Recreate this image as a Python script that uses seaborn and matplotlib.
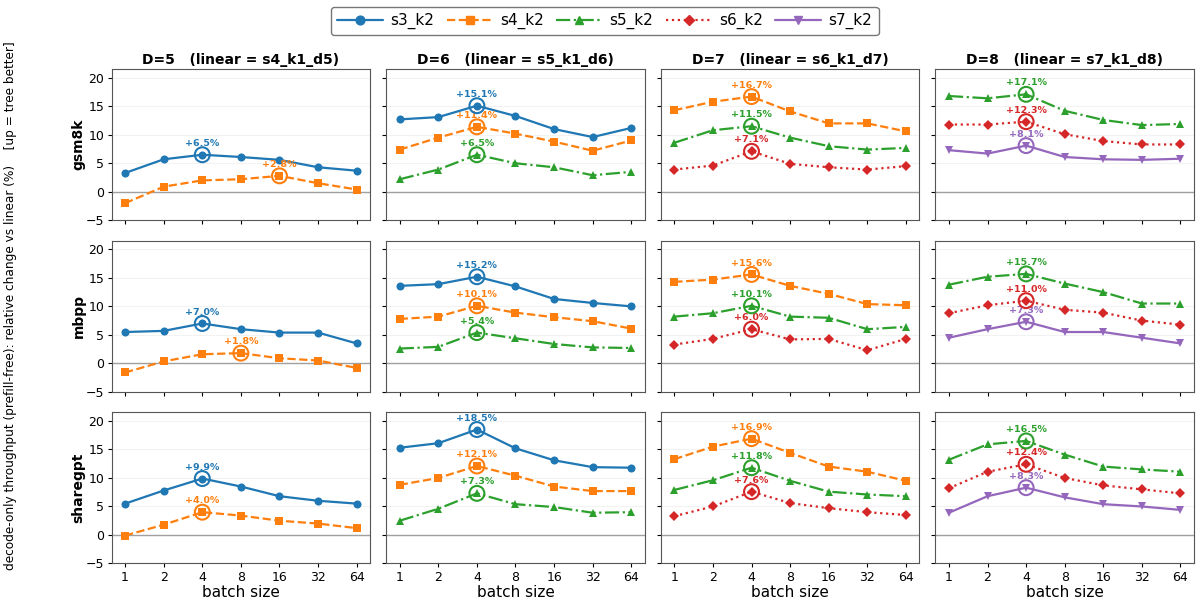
import matplotlib
matplotlib.use("Agg")
import matplotlib.pyplot as plt
from matplotlib.lines import Line2D
import seaborn as sns
import pandas as pd
import numpy as np

# batch sizes on the x axis
BATCH = [1, 2, 4, 8, 16, 32, 64]
DATASETS = ["gsm8k", "mbpp", "sharegpt"]
DEPTHS = [5, 6, 7, 8]
LINEAR = {5: "s4_k1_d5", 6: "s5_k1_d6", 7: "s6_k1_d7", 8: "s7_k1_d8"}
SERIES = ["s3_k2", "s4_k2", "s5_k2", "s6_k2", "s7_k2"]

# relative change vs linear (%) per panel
GSM8K_D5 = {"s3_k2": [3.3, 5.7, 6.5, 6.1, 5.6, 4.3, 3.7],
            "s4_k2": [-2.0, 0.9, 2.0, 2.2, 2.8, 1.5, 0.4]}
GSM8K_D6 = {"s3_k2": [12.7, 13.1, 15.1, 13.3, 11.0, 9.6, 11.2],
            "s4_k2": [7.4, 9.5, 11.4, 10.2, 8.8, 7.2, 9.0],
            "s5_k2": [2.2, 3.9, 6.5, 5.0, 4.3, 2.9, 3.5]}
GSM8K_D7 = {"s4_k2": [14.3, 15.8, 16.7, 14.1, 12.0, 12.0, 10.6],
            "s5_k2": [8.6, 10.8, 11.5, 9.5, 8.0, 7.4, 7.7],
            "s6_k2": [3.9, 4.6, 7.1, 4.9, 4.3, 3.9, 4.5]}
GSM8K_D8 = {"s5_k2": [16.8, 16.4, 17.1, 14.2, 12.6, 11.7, 11.9],
            "s6_k2": [11.8, 11.8, 12.3, 10.1, 8.9, 8.3, 8.3],
            "s7_k2": [7.3, 6.7, 8.1, 6.1, 5.7, 5.6, 5.8]}

MBPP_D5 = {"s3_k2": [5.5, 5.7, 7.0, 6.0, 5.4, 5.4, 3.5],
           "s4_k2": [-1.6, 0.35, 1.6, 1.8, 0.9, 0.5, -0.8]}
MBPP_D6 = {"s3_k2": [13.6, 13.9, 15.2, 13.5, 11.3, 10.6, 10.0],
           "s4_k2": [7.8, 8.2, 10.1, 8.9, 8.1, 7.4, 6.1],
           "s5_k2": [2.6, 2.9, 5.4, 4.4, 3.4, 2.8, 2.7]}
MBPP_D7 = {"s4_k2": [14.3, 14.7, 15.6, 13.6, 12.2, 10.4, 10.2],
           "s5_k2": [8.2, 8.8, 10.1, 8.2, 8.0, 6.0, 6.4],
           "s6_k2": [3.3, 4.3, 6.0, 4.2, 4.3, 2.3, 4.3]}
MBPP_D8 = {"s5_k2": [13.8, 15.2, 15.7, 14.0, 12.5, 10.5, 10.5],
           "s6_k2": [8.8, 10.2, 11.0, 9.4, 8.9, 7.5, 6.8],
           "s7_k2": [4.5, 6.0, 7.3, 5.5, 5.5, 4.5, 3.5]}

SHAREGPT_D5 = {"s3_k2": [5.5, 7.8, 9.9, 8.5, 6.8, 6.0, 5.5],
               "s4_k2": [-0.1, 1.8, 4.0, 3.4, 2.5, 2.0, 1.2]}
SHAREGPT_D6 = {"s3_k2": [15.3, 16.1, 18.5, 15.2, 13.1, 11.9, 11.8],
               "s4_k2": [8.8, 10.0, 12.1, 10.4, 8.5, 7.7, 7.7],
               "s5_k2": [2.5, 4.6, 7.3, 5.4, 4.9, 3.9, 4.0]}
SHAREGPT_D7 = {"s4_k2": [13.3, 15.5, 16.9, 14.4, 12.0, 11.1, 9.5],
               "s5_k2": [7.9, 9.6, 11.8, 9.5, 7.6, 7.1, 6.8],
               "s6_k2": [3.3, 5.0, 7.6, 5.6, 4.7, 4.0, 3.5]}
SHAREGPT_D8 = {"s5_k2": [13.2, 15.9, 16.5, 14.1, 12.0, 11.5, 11.1],
               "s6_k2": [8.2, 11.1, 12.4, 10.0, 8.7, 8.0, 7.3],
               "s7_k2": [3.9, 6.8, 8.3, 6.6, 5.4, 5.0, 4.4]}

PANELS = {
    "gsm8k": [GSM8K_D5, GSM8K_D6, GSM8K_D7, GSM8K_D8],
    "mbpp": [MBPP_D5, MBPP_D6, MBPP_D7, MBPP_D8],
    "sharegpt": [SHAREGPT_D5, SHAREGPT_D6, SHAREGPT_D7, SHAREGPT_D8],
}

# one style per tree shape
palette = sns.color_palette("tab10")
COLORS = {s: palette[i] for i, s in enumerate(SERIES)}
MARKERS = {"s3_k2": "o", "s4_k2": "s", "s5_k2": "^", "s6_k2": "D", "s7_k2": "v"}
LINESTYLES = {"s3_k2": "-", "s4_k2": "--", "s5_k2": "-.", "s6_k2": ":", "s7_k2": "-"}
MSIZE = {"s3_k2": 5.8, "s4_k2": 5.4, "s5_k2": 5.8, "s6_k2": 5.0, "s7_k2": 5.8}


def draw_panel(ax, data):
    df = pd.DataFrame(data)
    df["batch"] = BATCH
    for s in data:
        sns.lineplot(data=df, x="batch", y=s, ax=ax, color=COLORS[s],
                     marker=MARKERS[s], markersize=MSIZE[s], markeredgewidth=0,
                     linestyle=LINESTYLES[s], linewidth=1.6)
        # ring + label on the best batch size
        i = int(np.argmax(df[s].values))
        xb, yb = BATCH[i], df[s].values[i]
        ax.scatter([xb], [yb], s=115, facecolors="none", edgecolors=COLORS[s],
                   linewidths=1.5, zorder=5)
        ax.annotate(f"+{yb:.1f}%", (xb, yb), xytext=(0, 5),
                    textcoords="offset points", ha="center", va="bottom",
                    fontsize=6.8, fontweight="bold", color=COLORS[s])


sns.set_style("ticks")
plt.rcParams["font.family"] = ["DejaVu Sans"]
plt.rcParams["text.color"] = "black"
plt.rcParams["axes.labelcolor"] = "black"
plt.rcParams["xtick.color"] = "black"
plt.rcParams["ytick.color"] = "black"

fig, axes = plt.subplots(3, 4, figsize=(12, 6.02), dpi=100, sharex=True, sharey=True)
fig.subplots_adjust(left=0.093, right=0.995, top=0.885, bottom=0.064,
                    wspace=0.062, hspace=0.136)

for r, ds in enumerate(DATASETS):
    for c, d in enumerate(DEPTHS):
        ax = axes[r, c]
        ax.axhline(0, color="#a0a0a0", linewidth=1, zorder=1)
        draw_panel(ax, PANELS[ds][c])
        ax.set_xscale("log", base=2)
        ax.set_xticks(BATCH)
        ax.set_xticklabels([str(b) for b in BATCH])
        ax.minorticks_off()
        ax.set_xlim(2 ** -0.35, 2 ** 6.35)
        ax.set_ylim(-5, 21.5)
        ax.set_yticks([-5, 0, 5, 10, 15, 20])
        ax.grid(axis="y", alpha=0.25)
        ax.tick_params(labelsize=9, length=2.8, pad=2.5)
        for sp in ax.spines.values():
            sp.set_color("#555555")
        if r == 0:
            ax.set_title(f"D={d}   (linear = {LINEAR[d]})", fontsize=10,
                         fontweight="bold", pad=4)
        ax.set_xlabel("batch size" if r == 2 else "", fontsize=11, labelpad=1)
        if c == 0:
            ax.set_ylabel(ds, fontsize=10, fontweight="bold", labelpad=0)
        else:
            ax.set_ylabel("")

fig.text(0.0085, 0.493,
         "decode-only throughput (prefill-free): relative change vs linear (%)    [up = tree better]",
         rotation=90, ha="center", va="center", fontsize=8.7)

handles = [Line2D([0], [0], color=COLORS[s], marker=MARKERS[s], linestyle=LINESTYLES[s],
                  linewidth=1.6, markersize=MSIZE[s] + 0.5) for s in SERIES]
fig.legend(handles, SERIES, loc="center", bbox_to_anchor=(0.504, 0.965), ncol=5,
           fontsize=11, handlelength=3.0, handletextpad=0.5, columnspacing=0.8,
           frameon=True, edgecolor="#555555")

plt.savefig("out.png", dpi=100)
